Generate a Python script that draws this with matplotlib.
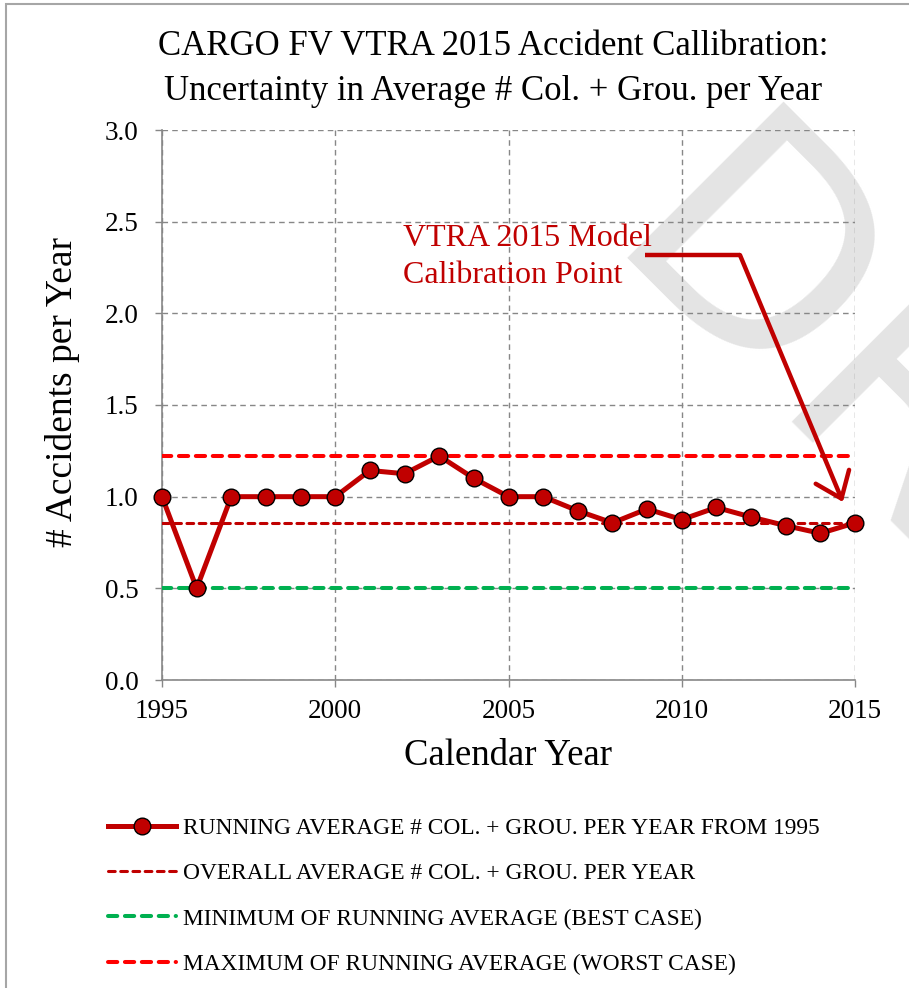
import numpy as np
import matplotlib
matplotlib.use('Agg')
import matplotlib.pyplot as plt
from matplotlib.patches import Rectangle
from matplotlib.lines import Line2D

plt.rcParams['font.family'] = ['Liberation Serif', 'DejaVu Serif']

years = np.arange(1995, 2016)
running_avg = [1.0, 0.5, 1.0, 1.0, 1.0, 1.0, 1.143, 1.125, 1.222, 1.1,
               1.0, 1.0, 0.923, 0.857, 0.933, 0.875, 0.941, 0.889, 0.842,
               0.8, 0.857]
overall_avg = 0.857
min_avg = min(running_avg)
max_avg = max(running_avg)

title = 'CARGO FV VTRA 2015 Accident Callibration:\nUncertainty in Average # Col. + Grou. per Year'
labels = ['RUNNING AVERAGE # COL. + GROU. PER YEAR FROM 1995',
          'OVERALL AVERAGE # COL. + GROU. PER YEAR',
          'MINIMUM OF RUNNING AVERAGE (BEST CASE)',
          'MAXIMUM OF RUNNING AVERAGE (WORST CASE)']

dark_red = '#c00000'
grid_grey = '#878787'

fig = plt.figure(figsize=(9.09, 9.88), dpi=100)
ax = fig.add_axes([162 / 909, 1 - 680 / 988, 693 / 909, 550 / 988])
ax.set_facecolor('none')

# watermark behind the chart
fig.text(596 / 909, 1 - 257 / 988, 'DRAFT', rotation=-45, rotation_mode='anchor',
         ha='left', va='baseline', fontsize=218, color='#e4e4e4',
         family=['Liberation Sans Narrow', 'DejaVu Sans'], zorder=-5)

# frame round the picture (only left/top visible)
fig.patches.append(Rectangle((6 / 909, -0.2), 1.5, 1.2 - 4 / 988, transform=fig.transFigure,
                             fill=False, edgecolor='#a6a6a6', linewidth=1.5, zorder=-6))

x0, x1 = years[0], years[-1]
ax.plot([x0, x1], [max_avg, max_avg], color='#ff0000', lw=2.9,
        linestyle=(0, (2.3, 1.9)), dash_capstyle='round', zorder=3)
ax.plot([x0, x1], [overall_avg, overall_avg], color=dark_red, lw=2.2,
        linestyle=(0, (2.2, 1.8)), dash_capstyle='round', zorder=3)
ax.plot([x0, x1], [min_avg, min_avg], color='#00b050', lw=2.9,
        linestyle=(0, (2.3, 1.9)), dash_capstyle='round', zorder=3)
ax.plot(years, running_avg, color=dark_red, lw=3.6, marker='o', ms=12,
        mfc=dark_red, mec='black', mew=1.0, zorder=4, clip_on=False)

ax.set_xlim(1995, 2015)
ax.set_ylim(0, 3.0)
ax.set_xticks(np.arange(1995, 2016, 5))
ax.set_yticks(np.arange(0, 3.01, 0.5))
ax.yaxis.set_major_formatter(matplotlib.ticker.FormatStrFormatter('%.1f'))
ax.grid(True, color=grid_grey, lw=1.0, linestyle=(0, (4, 3)))
ax.set_axisbelow(True)
for s in ['top', 'right']:
    ax.spines[s].set_visible(False)
for s in ['left', 'bottom']:
    ax.spines[s].set_color(grid_grey)
    ax.spines[s].set_linewidth(1.2)
ax.tick_params(axis='both', colors=grid_grey, labelcolor='black', labelsize=19.5,
               length=5, width=1.0, direction='out')
ax.tick_params(axis='y', pad=12)
ax.tick_params(axis='x', pad=9)

ax.set_xlabel('Calendar Year', fontsize=26.5, labelpad=10)
ax.set_ylabel('# Accidents per Year', fontsize=27)
ax.yaxis.set_label_coords(-0.118, 0.524)

fig.text(493 / 909, 1 - 69 / 988, title, ha='center', va='center', fontsize=25,
         linespacing=1.45)

# annotation
ax.text(2001.96, 2.49, 'VTRA 2015 Model\nCalibration Point', color=dark_red,
        fontsize=23, ha='left', va='top', linespacing=1.38)
ax.plot([2008.94, 2011.68], [2.318, 2.318], color=dark_red, lw=3.2,
        solid_capstyle='butt', zorder=5)
ax.annotate('', xy=(2014.65, 0.971), xytext=(2011.68, 2.318),
            arrowprops=dict(arrowstyle='->,head_length=0.85,head_width=0.65',
                            color=dark_red, lw=3.2, shrinkA=0, shrinkB=0,
                            mutation_scale=20), zorder=5)

handles = [
    Line2D([], [], color=dark_red, lw=3.6, marker='o', ms=12, mfc=dark_red,
           mec='black', mew=1.0),
    Line2D([], [], color=dark_red, lw=2.2, linestyle=(0, (2.2, 1.8)),
           dash_capstyle='round'),
    Line2D([], [], color='#00b050', lw=2.9, linestyle=(0, (2.3, 1.9)),
           dash_capstyle='round'),
    Line2D([], [], color='#ff0000', lw=2.9, linestyle=(0, (2.3, 1.9)),
           dash_capstyle='round'),
]
fig.legend(handles, labels, loc='upper left',
           bbox_to_anchor=(108 / 909, 1 - 818 / 988), frameon=False,
           fontsize=16.8, handlelength=2.9, handletextpad=0.3, labelspacing=1.02,
           borderpad=0, borderaxespad=0)

fig.savefig('out.png', dpi=100)
